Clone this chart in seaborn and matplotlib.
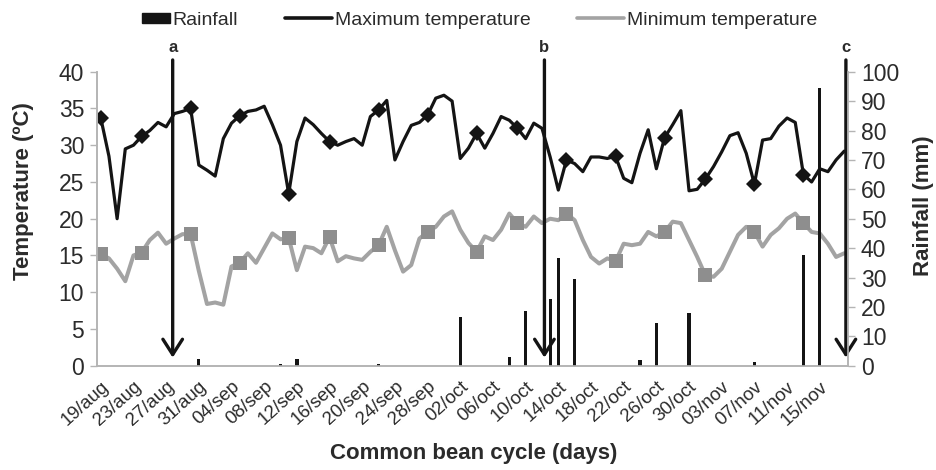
import numpy as np
import matplotlib
matplotlib.use("Agg")
import matplotlib.pyplot as plt
import seaborn as sns
from matplotlib.patches import Patch, Rectangle
from matplotlib.lines import Line2D
from matplotlib.legend_handler import HandlerPatch

# ===== data (one value per day, 19/aug .. 18/nov) =====
tmax = [33.7, 28.5, 20.0, 29.5, 30.0, 31.2, 32.0, 33.1, 32.5, 34.3,
        34.6, 35.0, 27.3, 26.6, 25.8, 30.9, 33.0, 34.0, 34.6, 34.8,
        35.3, 32.8, 30.0, 23.4, 30.5, 33.7, 32.8, 31.6, 30.5, 30.0,
        30.5, 30.9, 30.0, 33.9, 34.8, 36.1, 28.0, 30.5, 32.7, 33.1,
        34.1, 36.4, 36.8, 36.0, 28.2, 29.6, 31.6, 29.6, 31.6, 33.9,
        33.4, 32.3, 30.9, 33.0, 32.3, 28.4, 23.9, 28.0, 27.5, 26.4,
        28.4, 28.4, 28.2, 28.5, 25.5, 24.9, 28.9, 32.1, 26.8, 31.0,
        32.8, 34.7, 23.8, 24.0, 25.4, 27.1, 29.1, 31.3, 31.7, 28.9,
        24.7, 30.7, 30.9, 32.6, 33.7, 33.1, 26.0, 25.0, 26.8, 26.4,
        28.0, 29.2]

tmin = [15.2, 14.6, 13.2, 11.5, 15.0, 15.4, 17.1, 18.1, 16.6, 17.3,
        17.9, 17.9, 12.9, 8.4, 8.6, 8.3, 13.5, 14.0, 15.3, 14.0,
        16.0, 18.0, 17.2, 17.4, 13.0, 16.2, 16.0, 15.3, 17.5, 14.2,
        14.9, 14.6, 14.4, 15.5, 16.4, 18.9, 15.7, 12.8, 13.7, 17.3,
        18.2, 18.9, 20.3, 21.0, 18.5, 16.7, 15.5, 17.6, 17.1, 18.5,
        20.7, 19.4, 18.9, 20.3, 19.4, 20.0, 19.8, 20.7, 19.8, 17.1,
        14.8, 13.9, 14.6, 14.2, 16.6, 16.4, 16.6, 18.2, 17.6, 18.2,
        19.6, 19.4, 17.1, 14.8, 12.3, 12.1, 13.2, 15.5, 17.8, 18.9,
        18.2, 16.2, 17.8, 18.7, 20.0, 20.7, 19.4, 18.2, 18.0, 16.6,
        14.8, 15.3]

rain = [0, 0, 0, 0, 0, 0, 0, 0, 0, 0,
        0, 0, 2.2, 0, 0, 0, 0, 0, 0, 0,
        0, 0, 0.5, 0, 2.2, 0, 0, 0, 0, 0,
        0, 0, 0, 0, 0.5, 0, 0, 0, 0, 0,
        0, 0, 0, 0, 16.7, 0, 0, 0, 0, 0,
        2.8, 0, 18.7, 0, 0, 22.7, 36.5, 0, 29.4, 0,
        0, 0, 0, 0, 0, 0, 2.1, 0, 14.6, 0,
        0, 0, 17.8, 0, 0, 0, 0, 0, 0, 0,
        1.1, 0, 0, 0, 0, 0, 37.7, 0, 94.3, 0,
        0, 0]

# days carrying a marker symbol
marker_days = [0, 5, 11, 17, 23, 28, 34, 40, 46, 51, 57, 63, 69, 74, 80, 86]

date_labels = ['19/aug', '23/aug', '27/aug', '31/aug', '04/sep', '08/sep',
               '12/sep', '16/sep', '20/sep', '24/sep', '28/sep', '02/oct',
               '06/oct', '10/oct', '14/oct', '18/oct', '22/oct', '26/oct',
               '30/oct', '03/nov', '07/nov', '11/nov', '15/nov']

# phase arrows a, b, c (day position)
phase_names = ['a', 'b', 'c']
phase_days = [8.8, 54.3, 91.2]

days = np.arange(len(tmax))

# ===== style =====
sns.set_style('white')
plt.rcParams['font.family'] = ['Liberation Sans', 'DejaVu Sans']

BLACK = '#141414'
GRAY = '#a3a3a3'
MARK_GRAY = '#8e8e8e'
AXIS_GRAY = '#b4b4b4'
TXT = '#2b2b2b'

fig = plt.figure(figsize=(9.37, 4.70), dpi=100)
ax = fig.add_axes([0.1032, 0.2219, 0.8022, 0.6255])
ax2 = ax.twinx()

# temperatures
sns.lineplot(x=days, y=tmin, ax=ax, color=GRAY, lw=2.9, marker='s',
             markevery=marker_days, markersize=10, markerfacecolor=MARK_GRAY,
             markeredgewidth=0, legend=False)
sns.lineplot(x=days, y=tmax, ax=ax, color=BLACK, lw=2.3, marker='D',
             markevery=marker_days, markersize=8.5, markerfacecolor=BLACK,
             markeredgewidth=0, legend=False)

# rainfall
sns.barplot(x=days, y=rain, ax=ax2, native_scale=True, width=0.4,
            color=BLACK, saturation=1, linewidth=0, errorbar=None)

ax.set_xlim(-0.5, len(days) - 0.5)
ax.set_ylim(0, 40)
ax2.set_ylim(0, 100)
ax.set_yticks(np.arange(0, 41, 5))
ax2.set_yticks(np.arange(0, 101, 10))

ax.set_xticks(np.arange(0, len(days), 4))
ax.set_xticklabels(date_labels, rotation=42, ha='right',
                   rotation_mode='anchor')
ax.set_xticks(np.arange(-0.5, len(days), 1), minor=True)
ax.tick_params(axis='x', which='major', length=0, pad=9, labelsize=13.5,
               labelcolor=TXT)
ax.tick_params(axis='x', which='minor', length=5, width=1, color=AXIS_GRAY,
               direction='out')
ax.tick_params(axis='y', length=5, width=1, color=AXIS_GRAY, direction='out',
               labelsize=16.5, labelcolor=TXT, pad=4)
ax2.tick_params(axis='y', length=5, width=1, color=AXIS_GRAY, direction='out',
                labelsize=16.5, labelcolor=TXT, pad=4)
ax.set_xlabel('')
ax.set_ylabel('')
ax2.set_ylabel('')

for a in (ax, ax2):
    a.spines['top'].set_visible(False)
    for s in ('left', 'right', 'bottom'):
        a.spines[s].set_color(AXIS_GRAY)
        a.spines[s].set_linewidth(1.2)

# phase arrows
for name, d in zip(phase_names, phase_days):
    ax.annotate('', xy=(d, 1.1), xytext=(d, 41.6),
                arrowprops=dict(arrowstyle='->,head_length=0.5,head_width=0.32',
                                lw=2.4, color=BLACK, mutation_scale=22,
                                shrinkA=0, shrinkB=0),
                annotation_clip=False)
    ax.text(d, 43.3, name, ha='center', va='center', fontsize=12,
            fontweight='bold', color=TXT, clip_on=False)

# axis titles
fig.text(0.025, 0.594, 'Temperature (ºC)', rotation=90, ha='center',
         va='center', fontsize=16, fontweight='bold', color=TXT)
fig.text(0.986, 0.562, 'Rainfall (mm)', rotation=90, ha='center',
         va='center', fontsize=16, fontweight='bold', color=TXT)
fig.text(0.506, 1 - 453 / 470, 'Common bean cycle (days)', ha='center',
         va='center', fontsize=16, fontweight='bold', color=TXT)


# legend: short filled box for rainfall, longer strokes for the lines
def short_box(legend, orig_handle, xdescent, ydescent, width, height, fontsize):
    w = width * 0.6
    return Rectangle((width - w - xdescent, -ydescent + height * 0.1),
                     w, height * 0.8)


handles = [Patch(facecolor=BLACK, edgecolor=BLACK),
           Line2D([], [], color=BLACK, lw=2.6),
           Line2D([], [], color=GRAY, lw=2.6)]
labels = ['Rainfall', 'Maximum temperature', 'Minimum temperature']
fig.legend(handles, labels, loc='center', bbox_to_anchor=(0.5016, 0.957),
           ncol=3, frameon=False, fontsize=14, handlelength=2.4,
           handleheight=0.55, handletextpad=0.15, columnspacing=2.4,
           labelcolor=TXT,
           handler_map={Patch: HandlerPatch(patch_func=short_box)})

fig.savefig('out.png', dpi=100)
